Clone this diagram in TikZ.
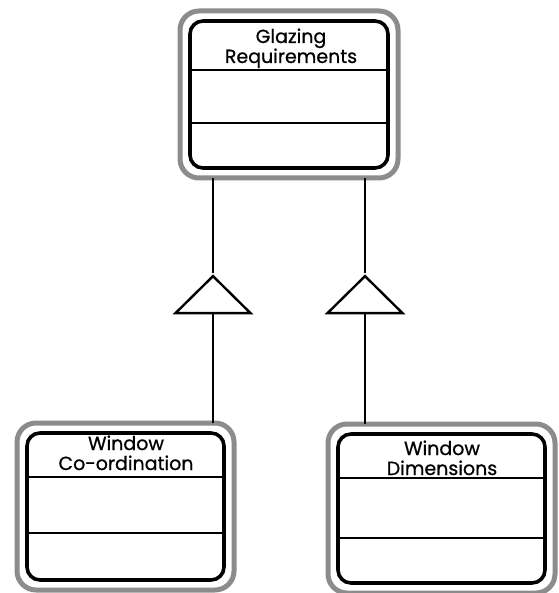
\documentclass[tikz,border=0pt]{standalone}
\usepackage{fontspec}
\setmainfont{Poppins}
\newfontfamily\clsfont{Poppins}[FakeBold=0.8]
\usetikzlibrary{shapes.geometric,calc}

\tikzset{
  classbox/.style={draw=black, line width=3.6pt, rounded corners=13pt,
    inner sep=0pt, fill=white},
  halo/.style={draw=black!45, line width=5pt, rounded corners=19pt},
  divider/.style={draw=black, line width=1.8pt},
  classname/.style={font=\clsfont\fontsize{19}{20}\selectfont, align=center,
    inner sep=0pt, anchor=base},
  connector/.style={draw=black, line width=2pt},
  genarrow/.style={isosceles triangle, shape border rotate=90,
    isosceles triangle stretches, minimum width=75pt, minimum height=37pt,
    inner sep=0pt, draw=black, line width=2.4pt, fill=white}
}

\begin{document}
\begin{tikzpicture}[x=1pt, y=-1pt]
  \useasboundingbox (0,0) rectangle (558,593);

  % class boxes: black rounded frame with a grey halo round it
  \foreach \nm/\xa/\ya/\xb/\yb/\da/\db in {
      gr/190/21/388/168/70/123,
      wc/27/433/224/580/477/533,
      wd/338/434/545/583/478/538} {
    \draw[halo] (\xa-10,\ya-10) rectangle (\xb+10,\yb+10);
    \node[classbox, minimum width=\xb-\xa, minimum height=\yb-\ya]
      (\nm) at ({(\xa+\xb)/2},{(\ya+\yb)/2}) {};
    \node[inner sep=0pt, minimum width=\xb-\xa+20, minimum height=\yb-\ya+20]
      (\nm-h) at (\nm.center) {};
    \draw[divider] (\xa,\da) -- (\xb,\da);
    \draw[divider] (\xa,\db) -- (\xb,\db);
  }

  % class names, placed by the baseline of their last line
  \node[classname] (gr-t) at (291,63) {Glazing\\Requirements};
  \node[classname] (wc-t) at (126,470) {Window\\Co-ordination};
  \node[classname] (wd-t) at (442,475) {Window\\Dimensions};

  % generalisation triangles
  \node[genarrow, anchor=apex] (g1) at (213,273) {};
  \node[genarrow, anchor=apex] (g2) at (365,273) {};

  % connectors
  \draw[connector] (gr-h.south -| g1.apex) -- (g1.apex);
  \draw[connector] (g1.south) -- (wc-h.north -| g1.south);
  \draw[connector] (gr-h.south -| g2.apex) -- (g2.apex);
  \draw[connector] (g2.south) -- (wd-h.north -| g2.south);
\end{tikzpicture}
\end{document}
